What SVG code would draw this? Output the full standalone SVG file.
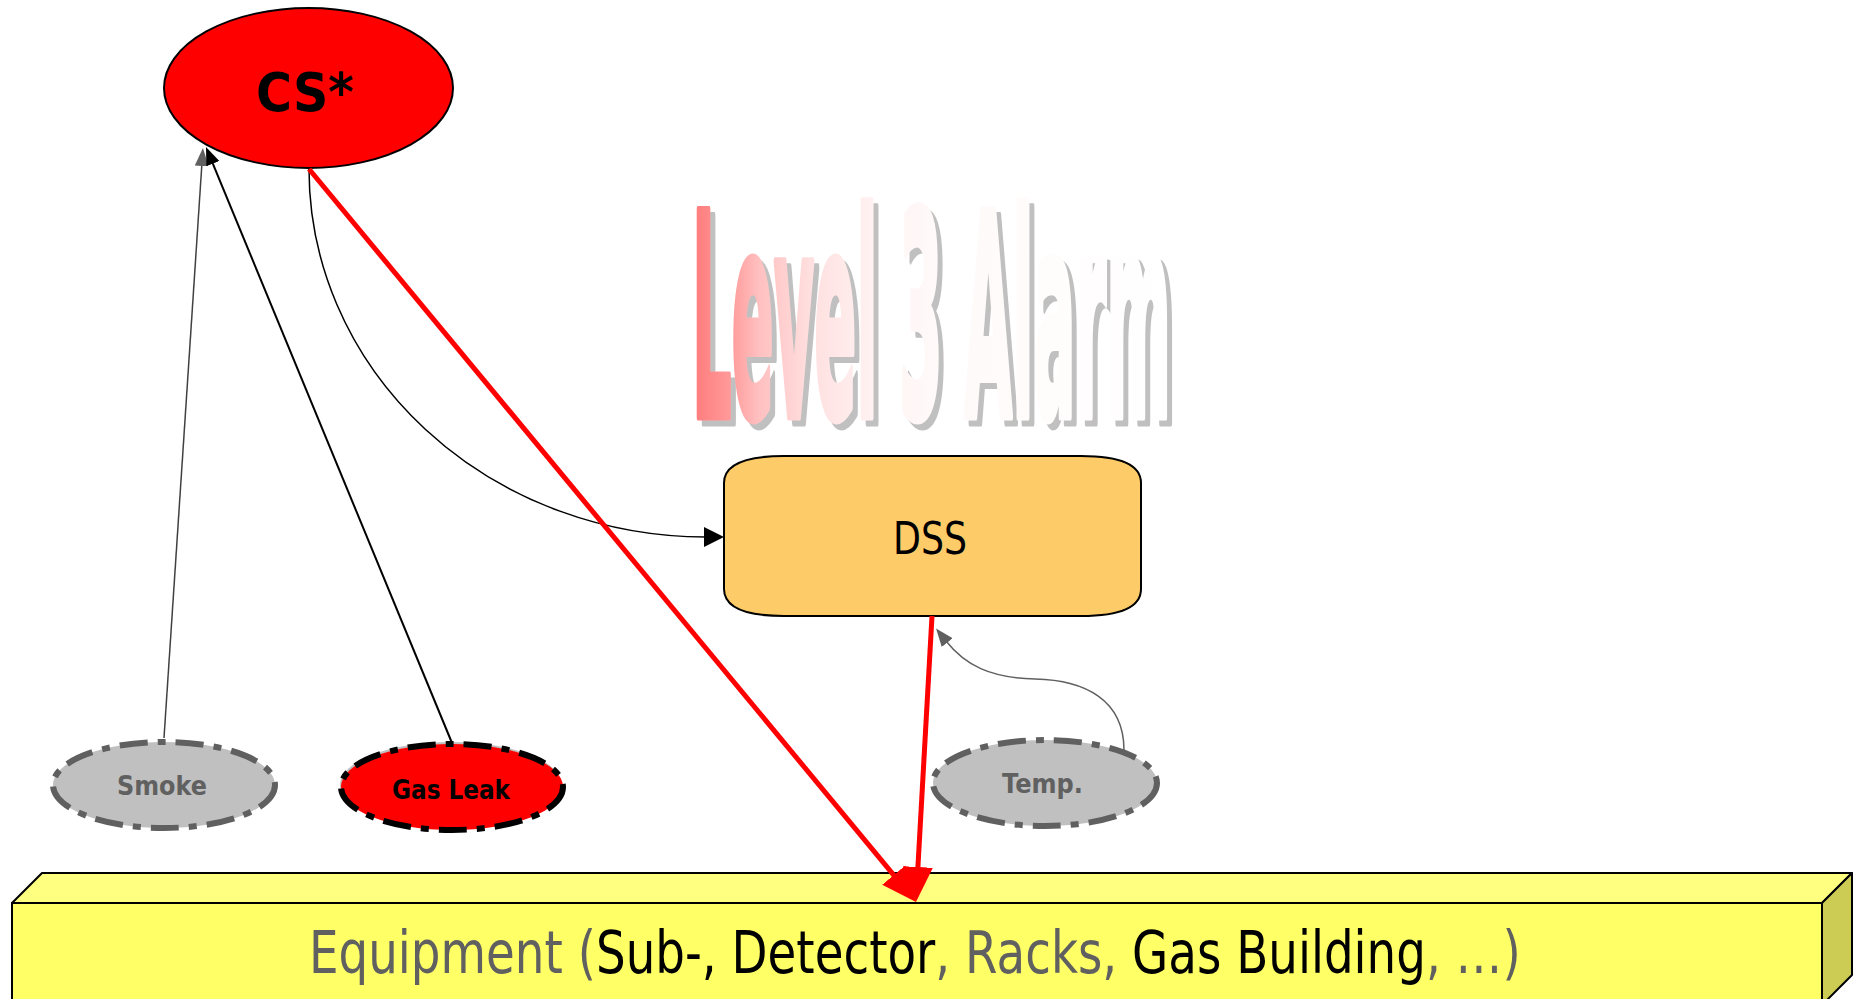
<svg xmlns="http://www.w3.org/2000/svg" width="1854" height="999" viewBox="0 0 1854 999">
  <defs>
    <style>
      .lbl { font-family: "DejaVu Sans", "Liberation Sans", sans-serif; }
      .bold { font-weight: bold; }
      .grey { fill: #606060; }
      .dark { fill: #000000; }
      .dashed-grey { fill: #C0C0C0; stroke: #606060; stroke-width: 6; stroke-dasharray: 28 10 8 10; }
      .dashed-red { fill: #FF0000; stroke: #000000; stroke-width: 6; stroke-dasharray: 28 10 8 10; }
      .edge { fill: none; }
      .red-edge { fill: none; stroke: #FF0000; stroke-width: 5; }
    </style>
    <linearGradient id="alarmFill" x1="0" y1="0" x2="1" y2="0">
      <stop offset="0" stop-color="#FF7A7A"/>
      <stop offset="0.08" stop-color="#FF9A9A"/>
      <stop offset="0.14" stop-color="#FFC0C0"/>
      <stop offset="0.25" stop-color="#FFE0E0"/>
      <stop offset="0.38" stop-color="#FFF2F2"/>
      <stop offset="0.5" stop-color="#FFF9F9"/>
      <stop offset="1" stop-color="#FFFFFF"/>
    </linearGradient>
    <!-- flat grey drop shadow for the WordArt title -->
    <filter id="dropShadow" x="-5%" y="-5%" width="115%" height="115%">
      <feFlood flood-color="#C0C0C0" result="tint"/>
      <feComposite in="tint" in2="SourceAlpha" operator="in" result="shape"/>
      <feOffset in="shape" dx="5" dy="6" result="shadow"/>
      <feMerge>
        <feMergeNode in="shadow"/>
        <feMergeNode in="SourceGraphic"/>
      </feMerge>
    </filter>
    <marker id="arrowRed" markerUnits="userSpaceOnUse" markerWidth="36" markerHeight="32" viewBox="0 -16 36 32" refX="2" refY="0" orient="auto">
      <path d="M0,-15 L35,0 L0,15 z" fill="#FF0000"/>
    </marker>
    <marker id="arrowBlack" markerUnits="userSpaceOnUse" markerWidth="20" markerHeight="16" viewBox="0 -8 20 16" refX="2" refY="0" orient="auto">
      <path d="M0,-7 L18,0 L0,7 z" fill="#000000"/>
    </marker>
    <marker id="arrowGrey" markerUnits="userSpaceOnUse" markerWidth="20" markerHeight="16" viewBox="0 -8 20 16" refX="2" refY="0" orient="auto">
      <path d="M0,-7 L18,0 L0,7 z" fill="#606060"/>
    </marker>
    <marker id="arrowBig" markerUnits="userSpaceOnUse" markerWidth="22" markerHeight="22" viewBox="0 -11 22 22" refX="2" refY="0" orient="auto">
      <path d="M0,-10 L20,0 L0,10 z" fill="#000000"/>
    </marker>
  </defs>

  <rect width="1854" height="999" fill="#FFFFFF"/>

  <!-- WordArt title: red-to-white gradient face with a grey drop shadow -->
  <g id="title" filter="url(#dropShadow)">
    <text transform="translate(692,416) scale(1,3)" x="0" y="0" font-family="DejaVu Sans, Liberation Sans, sans-serif" font-weight="bold" font-size="94" textLength="479" lengthAdjust="spacingAndGlyphs" fill="url(#alarmFill)" stroke="url(#alarmFill)" stroke-width="3" stroke-linejoin="round">Level 3 Alarm</text>
  </g>

  <!-- Equipment: extruded bar along the bottom edge -->
  <g id="equipment">
    <polygon points="12,903 42,873 1852,873 1822,903" fill="#FFFF80" stroke="#000000" stroke-width="2" stroke-linejoin="round"/>
    <polygon points="1822,903 1852,873 1852,975 1822,1005" fill="#CCCC55" stroke="#000000" stroke-width="2" stroke-linejoin="round"/>
    <rect x="12" y="903" width="1810" height="110" fill="#FFFF66" stroke="#000000" stroke-width="2"/>
    <text class="lbl" transform="translate(309,973) scale(0.8065,1)" x="0" y="0" font-size="58"><tspan class="grey">Equipment (</tspan><tspan class="dark">Sub-, Detector</tspan><tspan class="grey">, Racks, </tspan><tspan class="dark">Gas Building</tspan><tspan class="grey">, …)</tspan></text>
  </g>

  <g id="cs">
    <ellipse cx="308.5" cy="88" rx="144.5" ry="80" fill="#FF0000" stroke="#000000" stroke-width="2"/>
    <text class="lbl bold dark" x="256" y="111" font-size="54" textLength="98" lengthAdjust="spacingAndGlyphs">CS*</text>
  </g>

  <g id="dss">
    <path d="M784,456 L1081,456 Q1141,456 1141,483 L1141,589 Q1141,616 1081,616 L784,616 Q724,616 724,589 L724,483 Q724,456 784,456 Z" fill="#FECB69" stroke="#000000" stroke-width="2"/>
    <text class="lbl dark" x="893" y="554" font-size="44" textLength="74" lengthAdjust="spacingAndGlyphs">DSS</text>
  </g>

  <g id="smoke">
    <ellipse class="dashed-grey" cx="164" cy="785" rx="111" ry="43"/>
    <text class="lbl bold grey" x="117" y="795" font-size="26" textLength="90" lengthAdjust="spacingAndGlyphs">Smoke</text>
  </g>

  <g id="gas-leak">
    <ellipse cx="451" cy="785" rx="111" ry="43" fill="#C0C0C0"/>
    <ellipse class="dashed-red" cx="452" cy="787" rx="111" ry="43"/>
    <text class="lbl bold dark" x="392" y="799" font-size="26" textLength="118" lengthAdjust="spacingAndGlyphs">Gas Leak</text>
  </g>

  <g id="temp">
    <ellipse class="dashed-grey" cx="1045" cy="783" rx="112" ry="43"/>
    <text class="lbl bold grey" x="1002" y="793" font-size="26" textLength="81" lengthAdjust="spacingAndGlyphs">Temp.</text>
  </g>

  <g id="connectors">
    <!-- sensors report up to CS* -->
    <path class="edge" d="M164,738 L201.9,164" stroke="#404040" stroke-width="1.5" marker-end="url(#arrowGrey)"/>
    <path class="edge" d="M452,743 L212.1,161.8" stroke="#000000" stroke-width="2" marker-end="url(#arrowBlack)"/>
    <!-- CS* notifies DSS -->
    <path class="edge" d="M309,169 A397,368 0 0 0 706,537" stroke="#000000" stroke-width="1.5" marker-end="url(#arrowBig)"/>
    <!-- temperature feeds DSS -->
    <path class="edge" d="M1124,750 C1124,700 1085,680 1035,679 C990,678 965,665 946,641" stroke="#606060" stroke-width="1.5" marker-end="url(#arrowGrey)"/>
    <!-- actions onto the equipment -->
    <path class="red-edge" d="M309,169 L895,876.6" marker-end="url(#arrowRed)"/>
    <path class="red-edge" d="M932,616 L917.8,869" marker-end="url(#arrowRed)"/>
  </g>
</svg>
